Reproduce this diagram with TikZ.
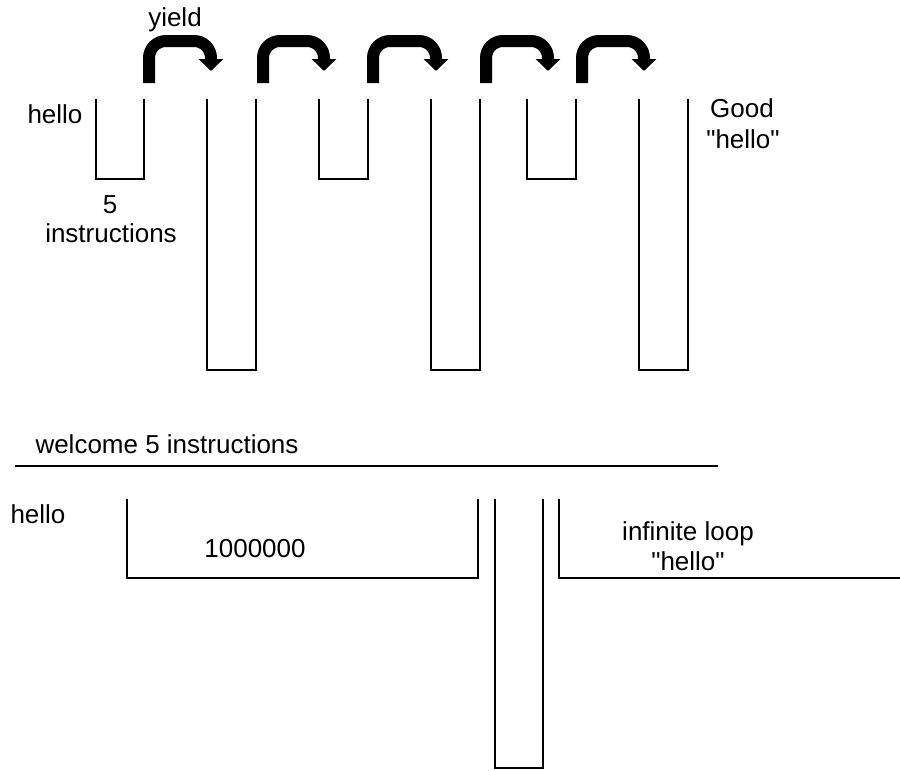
\documentclass[tikz,border=0pt]{standalone}
\usepackage{fontspec}
\setmainfont{Liberation Sans}
\usetikzlibrary{arrows.meta}
\begin{document}
\begin{tikzpicture}[x=1pt,y=-1pt,
  cup/.style={line width=2.9pt, line join=miter},
  yieldarrow/.style={line width=12pt, rounded corners=17pt, -{Triangle[length=12pt,width=24pt]}},
  lbl/.style={font=\fontsize{26}{30}\selectfont, inner sep=0pt, anchor=base}]
\useasboundingbox (0,0) rectangle (900,771);
% top: yield arrows
\draw[yieldarrow] (149,83) -- (149,41) -- (211,41) -- (211,71);
\draw[yieldarrow] (263,83) -- (263,41) -- (324,41) -- (324,71);
\draw[yieldarrow] (373,83) -- (373,41) -- (436,41) -- (436,71);
\draw[yieldarrow] (486,83) -- (486,41) -- (548,41) -- (548,71);
\draw[yieldarrow] (582,83) -- (582,41) -- (644,41) -- (644,71);
% top cups
\draw[cup] (96,99) -- (96,179) -- (144,179) -- (144,99);
\draw[cup] (207,99) -- (207,370) -- (256,370) -- (256,99);
\draw[cup] (319,99) -- (319,179) -- (368,179) -- (368,99);
\draw[cup] (431,99) -- (431,370) -- (480,370) -- (480,99);
\draw[cup] (527,99) -- (527,179) -- (576,179) -- (576,99);
\draw[cup] (639,99) -- (639,370) -- (688,370) -- (688,99);
% top labels
\node[lbl] (yield) at (175,27) {yield};
\node[lbl] (hello1) at (55,123) {hello};
\node[lbl] (five) at (110,213) {5};
\node[lbl] (instr) at (111,242) {instructions};
\node[lbl] (good) at (742,117) {Good};
\node[lbl] (goodhello) at (743,148) {\textquotedbl hello\textquotedbl};
% bottom
\node[lbl] (welcome) at (167,453) {welcome 5 instructions};
\draw[cup] (15,466) -- (718,466);
\node[lbl] (hello2) at (38,523) {hello};
\draw[cup] (127,499) -- (127,578) -- (478,578) -- (478,499);
\node[lbl] (million) at (255,557) {1000000};
\draw[cup] (495,499) -- (495,768) -- (543,768) -- (543,499);
\draw[cup] (559,499) -- (559,578) -- (900,578);
\node[lbl] (inf) at (688,540) {infinite loop};
\node[lbl] (infhello) at (688,570) {\textquotedbl hello\textquotedbl};
\end{tikzpicture}
\end{document}
